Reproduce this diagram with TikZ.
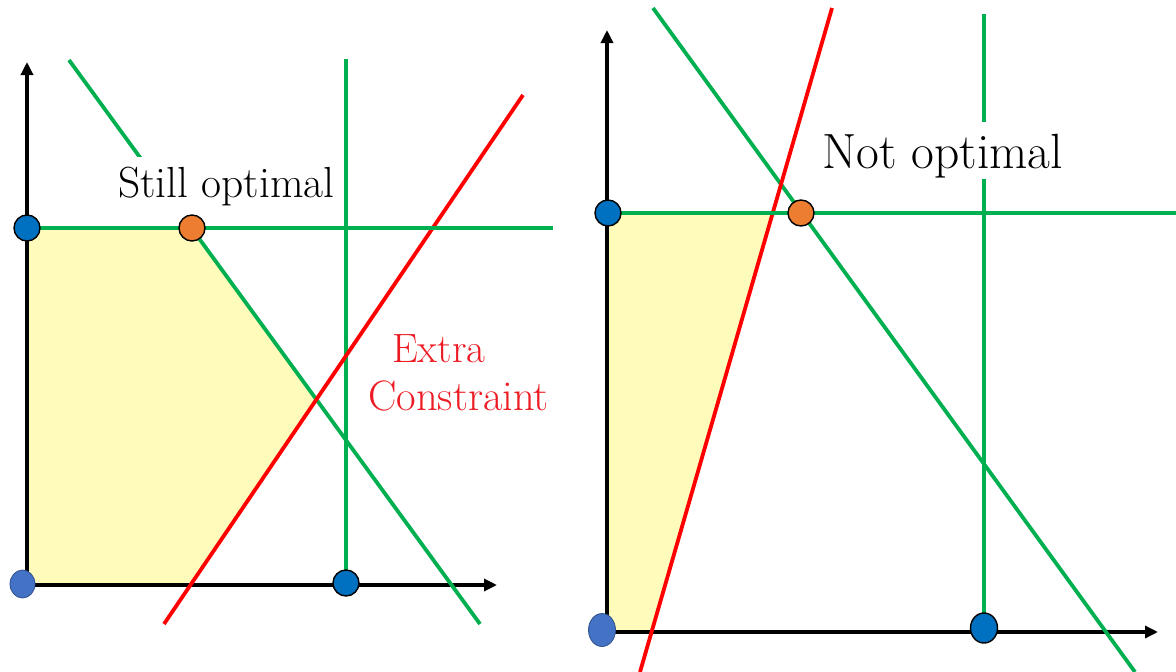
\documentclass[tikz,border=0pt]{standalone}
\usetikzlibrary{arrows.meta,shapes.geometric}
\definecolor{lgreen}{RGB}{0,176,80}
\definecolor{lred}{RGB}{255,0,0}
\definecolor{tred}{RGB}{237,28,36}
\definecolor{dotblue}{RGB}{0,112,192}
\definecolor{cornerblue}{RGB}{68,114,196}
\definecolor{cornerrim}{RGB}{47,82,143}
\definecolor{dotorange}{RGB}{237,125,49}
\definecolor{feasible}{RGB}{255,251,187}
\tikzset{
  axis/.style={line width=4pt,-{Triangle[length=13pt,width=12pt]}},
  gline/.style={line width=3.8pt,lgreen},
  rline/.style={line width=3.8pt,lred},
  bdot/.style={circle,draw=black,line width=1.4pt,fill=dotblue,minimum size=26pt,inner sep=0pt},
  odot/.style={circle,draw=black,line width=1.4pt,fill=dotorange,minimum size=26pt,inner sep=0pt},
  cdot/.style={ellipse,draw=cornerrim,line width=0.8pt,fill=cornerblue,inner sep=0pt},
  lbl/.style={inner sep=0pt,anchor=base west},
}
\begin{document}
\begin{tikzpicture}[x=1pt,y=-1pt]
\useasboundingbox (0,0) rectangle (1176,672);
% ---------- left panel ----------
\fill[feasible] (27,585) -- (27,228) -- (192,228) -- (316.8,398.7) -- (190,585) -- cycle;
\coordinate (LO) at (27,585);
\coordinate (LYtop) at (27,62);
\coordinate (LXend) at (497,585);
\draw[axis] (LO) -- (LYtop);
\draw[axis] (LO) -- (LXend);
\coordinate (LDa) at (69,60);
\coordinate (LDb) at (480,624);
\draw[gline] (LDa) -- (LDb);
\coordinate (LVa) at (346,59);
\coordinate (LVb) at (346,585);
\draw[gline] (LVa) -- (LVb);
\coordinate (LRa) at (164,624);
\coordinate (LRb) at (523,95);
\draw[rline] (LRa) -- (LRb);
\fill[white] (108,157) rectangle (341,224);
\node[lbl,font=\fontsize{43.5}{48}\selectfont] (still) at (118,197) {Still optimal};
\coordinate (LHa) at (27,228);
\coordinate (LHb) at (553,228);
\draw[gline] (LHa) -- (LHb);
\node[lbl,text=tred,font=\fontsize{41}{46}\selectfont] (extra) at (392,362) {Extra};
\node[lbl,text=tred,font=\fontsize{42.5}{46}\selectfont] (constr) at (368,410) {Constraint};
\node[bdot] (L1) at (27,228) {};
\node[odot] (L2) at (192,228) {};
\node[bdot] (L3) at (346,583) {};
\node[cdot,minimum width=25pt,minimum height=28pt] (L0) at (22.5,584) {};
% ---------- right panel ----------
\fill[feasible] (607,632) -- (607,213) -- (772.7,213) -- (651.6,632) -- cycle;
\coordinate (RO) at (607,632);
\coordinate (RYtop) at (607,30);
\coordinate (RXend) at (1158,632);
\draw[axis] (RO) -- (RYtop);
\draw[axis] (RO) -- (RXend);
\coordinate (RDa) at (653,8);
\coordinate (RDb) at (1135,672);
\draw[gline] (RDa) -- (RDb);
\coordinate (RVa) at (984,14);
\coordinate (RVb) at (984,630);
\draw[gline] (RVa) -- (RVb);
\coordinate (RRa) at (640,672);
\coordinate (RRb) at (832,8);
\draw[rline] (RRa) -- (RRb);
\fill[white] (815,122) rectangle (1072,179);
\node[lbl,font=\fontsize{49.5}{54}\selectfont] (notopt) at (822,168) {Not optimal};
\coordinate (RHa) at (607,213);
\coordinate (RHb) at (1176,213);
\draw[gline] (RHa) -- (RHb);
\node[bdot] (R1) at (608,213) {};
\node[odot] (R2) at (801,213) {};
\node[bdot,ellipse,minimum width=27pt,minimum height=30pt] (R3) at (984,628) {};
\node[cdot,minimum width=27pt,minimum height=33pt] (R0) at (602,630) {};
\end{tikzpicture}
\end{document}
